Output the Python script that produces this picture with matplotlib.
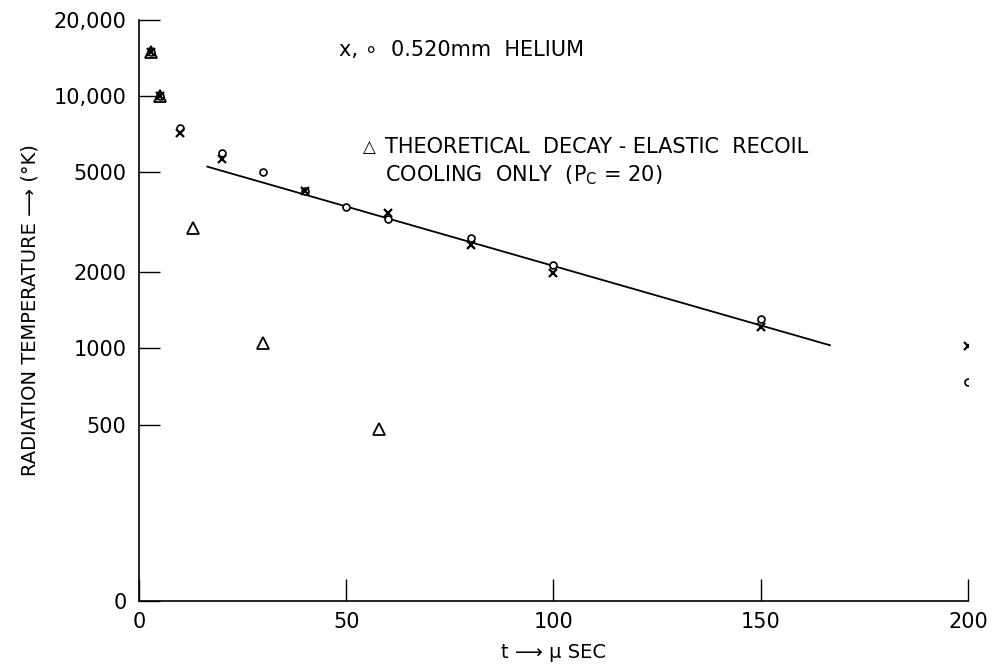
import matplotlib.pyplot as plt
from matplotlib.ticker import NullLocator

plt.rcParams['font.family'] = ['DejaVu Sans']

# measured points, 0.520 mm helium (circles and crosses)
t_circ = [3, 5, 10, 20, 30, 40, 50, 60, 80, 100, 150, 200]
T_circ = [15000, 10000, 7500, 5950, 5000, 4200, 3650, 3250, 2730, 2140, 1310, 740]
t_x = [3, 5, 10, 20, 40, 60, 80, 100, 150, 200]
T_x = [15000, 10000, 7150, 5650, 4200, 3440, 2570, 1985, 1220, 1025]

# theoretical decay, elastic recoil cooling only
t_tri = [3, 5, 13, 30, 58]
T_tri = [15000, 10000, 3000, 1050, 480]

# straight-line fit through the measurements
t_fit = [16.5, 166.7]
T_fit = [5250, 1030]

yticks = [100, 500, 1000, 2000, 5000, 10000, 20000]
ytick_labels = ['0', '500', '1000', '2000', '5000', '10,000', '20,000']
xticks = [0, 50, 100, 150, 200]

fig = plt.figure(figsize=(9.92, 6.66), dpi=100)
ax = fig.add_axes([0.1401, 0.0976, 0.8357, 0.8724])

ax.plot(t_fit, T_fit, color='black', lw=1.3)
ax.plot(t_tri, T_tri, ls='none', marker='^', ms=9, mfc='none', mec='black', mew=1.3)
ax.plot(t_circ, T_circ, ls='none', marker='o', ms=5, mfc='white', mec='black', mew=1.2)
ax.plot(t_x, T_x, ls='none', marker='x', ms=6, color='black', mew=1.6)

ax.set_yscale('log')
ax.set_ylim(100, 20000)
ax.set_xlim(0, 200)
ax.set_yticks(yticks)
ax.set_yticklabels(ytick_labels)
ax.yaxis.set_minor_locator(NullLocator())
ax.set_xticks(xticks)

for side in ('top', 'right'):
    ax.spines[side].set_visible(False)
for side in ('left', 'bottom'):
    ax.spines[side].set_linewidth(1.2)

ax.tick_params(axis='y', direction='in', length=15, width=1.0, pad=9, labelsize=15)
ax.tick_params(axis='x', direction='in', length=16, width=1.0, pad=8, labelsize=15)

ax.set_ylabel('RADIATION TEMPERATURE \u27f6 (\u00b0K)', fontsize=14, labelpad=10)
ax.set_xlabel('t \u27f6 \u03bc SEC', fontsize=14, labelpad=8)

ax.text(0.241, 0.948, 'x, \u2218  0.520mm  HELIUM', transform=ax.transAxes,
        fontsize=15, va='center', ha='left')
ax.text(0.270, 0.782, '\u25b3', transform=ax.transAxes,
        fontsize=12, va='center', ha='left')
ax.text(0.297, 0.782, 'THEORETICAL  DECAY - ELASTIC  RECOIL', transform=ax.transAxes,
        fontsize=15, va='center', ha='left')
ax.text(0.297, 0.732, 'COOLING  ONLY  (P$_\\mathrm{C}$ = 20)', transform=ax.transAxes,
        fontsize=15, va='center', ha='left')

fig.savefig('out.png', dpi=100)
